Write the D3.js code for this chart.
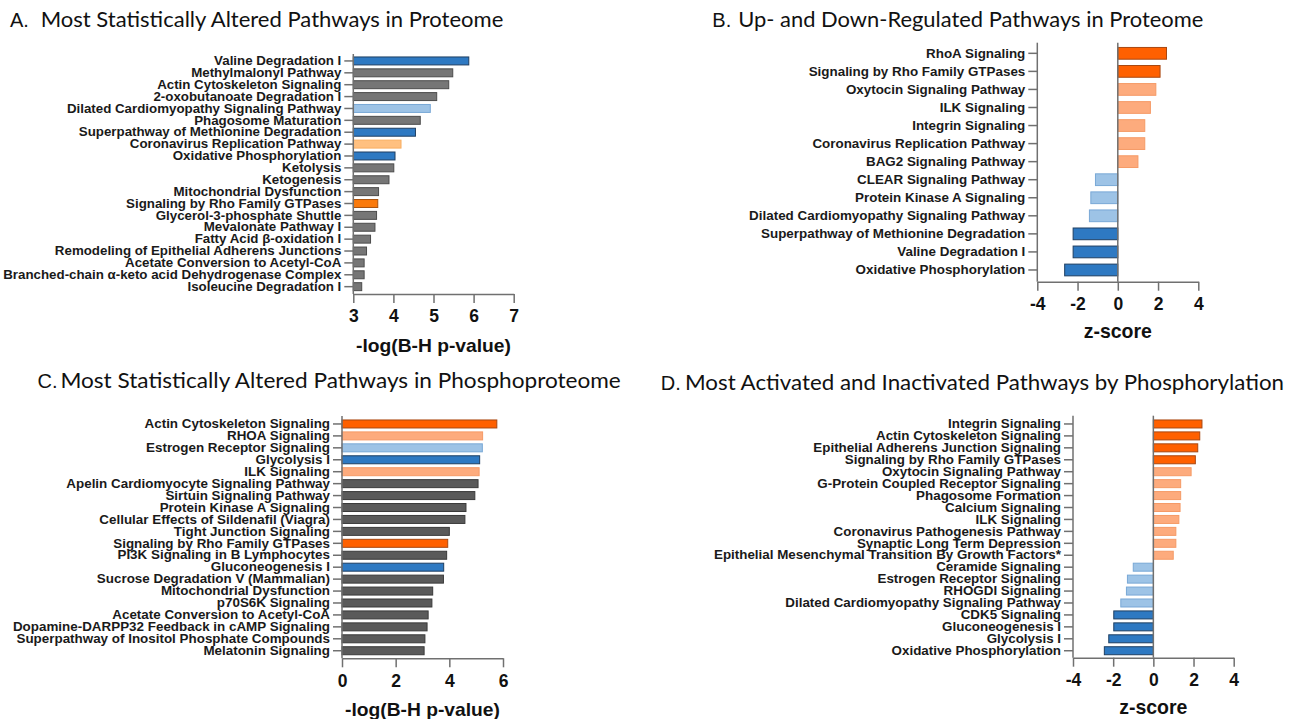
<!DOCTYPE html>
<html>
<head>
<meta charset="utf-8">
<script src="https://cdn.jsdelivr.net/npm/d3@7"></script>
<style>
  html, body { margin: 0; padding: 0; background: #ffffff; }
  svg { display: block; }
</style>
</head>
<body>
<svg id="chart" width="1300" height="719"></svg>
<script>
// ---------------- DATA ----------------
const aLabels = ["Valine Degradation I","Methylmalonyl Pathway","Actin Cytoskeleton Signaling","2-oxobutanoate Degradation I","Dilated Cardiomyopathy Signaling Pathway","Phagosome Maturation","Superpathway of Methionine Degradation","Coronavirus Replication Pathway","Oxidative Phosphorylation","Ketolysis","Ketogenesis","Mitochondrial Dysfunction","Signaling by Rho Family GTPases","Glycerol-3-phosphate Shuttle","Mevalonate Pathway I","Fatty Acid β-oxidation I","Remodeling of Epithelial Adherens Junctions","Acetate Conversion to Acetyl-CoA","Branched-chain α-keto acid Dehydrogenase Complex","Isoleucine Degradation I"];
const aValues = [5.88,5.48,5.38,5.08,4.92,4.67,4.55,4.19,4.04,4.01,3.89,3.63,3.61,3.58,3.54,3.43,3.33,3.27,3.27,3.21];
const aCats = ["down","none","none","none","weakDown","none","down","weakUp","down","none","none","none","up","none","none","none","none","none","none","none"];
const aTicks = [3,4,5,6,7];

const bLabels = ["RhoA Signaling","Signaling by Rho Family GTPases","Oxytocin Signaling Pathway","ILK Signaling","Integrin Signaling","Coronavirus Replication Pathway","BAG2 Signaling Pathway","CLEAR Signaling Pathway","Protein Kinase A Signaling","Dilated Cardiomyopathy Signaling Pathway","Superpathway of Methionine Degradation","Valine Degradation I","Oxidative Phosphorylation"];
const bValues = [2.42,2.10,1.89,1.62,1.34,1.34,1.00,-1.11,-1.34,-1.41,-2.22,-2.22,-2.64];
const bCats = ["up","up","weakUp","weakUp","weakUp","weakUp","weakUp","weakDown","weakDown","weakDown","down","down","down"];
const bTicks = [-4,-2,0,2,4];

const cLabels = ["Actin Cytoskeleton Signaling","RHOA Signaling","Estrogen Receptor Signaling","Glycolysis I","ILK Signaling","Apelin Cardiomyocyte Signaling Pathway","Sirtuin Signaling Pathway","Protein Kinase A Signaling","Cellular Effects of Sildenafil (Viagra)","Tight Junction Signaling","Signaling by Rho Family GTPases","PI3K Signaling in B Lymphocytes","Gluconeogenesis I","Sucrose Degradation V (Mammalian)","Mitochondrial Dysfunction","p70S6K Signaling","Acetate Conversion to Acetyl-CoA","Dopamine-DARPP32 Feedback in cAMP Signaling","Superpathway of Inositol Phosphate Compounds","Melatonin Signaling"];
const cValues = [5.77,5.24,5.23,5.13,5.11,5.07,4.95,4.62,4.58,4.00,3.94,3.90,3.79,3.78,3.38,3.35,3.21,3.17,3.09,3.06];
const cCats = ["up","weakUp","weakDown","down","weakUp","none","none","none","none","none","up","none","down","none","none","none","none","none","none","none"];
const cTicks = [0,2,4,6];

const dLabels = ["Integrin Signaling","Actin Cytoskeleton Signaling","Epithelial Adherens Junction Signaling","Signaling by Rho Family GTPases","Oxytocin Signaling Pathway","G-Protein Coupled Receptor Signaling","Phagosome Formation","Calcium Signaling","ILK Signaling","Coronavirus Pathogenesis Pathway","Synaptic Long Term Depression","Epithelial Mesenchymal Transition By Growth Factors*","Ceramide Signaling","Estrogen Receptor Signaling","RHOGDI Signaling","Dilated Cardiomyopathy Signaling Pathway","CDK5 Signaling","Gluconeogenesis I","Glycolysis I","Oxidative Phosphorylation"];
const dValues = [2.42,2.31,2.21,2.09,1.88,1.36,1.36,1.33,1.27,1.12,1.12,0.99,-1.00,-1.29,-1.34,-1.62,-1.97,-1.97,-2.22,-2.44];
const dCats = ["up","up","up","up","weakUp","weakUp","weakUp","weakUp","weakUp","weakUp","weakUp","weakUp","weakDown","weakDown","weakDown","weakDown","down","down","down","down"];
const dTicks = [-4,-2,0,2,4];

const titles = [
  {letter:"A.", text:"Most Statistically Altered Pathways in Proteome"},
  {letter:"B.", text:"Up- and Down-Regulated Pathways in Proteome"},
  {letter:"C.", text:"Most Statistically Altered Pathways in Phosphoproteome"},
  {letter:"D.", text:"Most Activated and Inactivated Pathways by Phosphorylation"}
];
const xTitles = ["-log(B-H p-value)","z-score","-log(B-H p-value)","z-score"];

// ---------------- STYLE ----------------
const basePalette = {
  up:       {fill:"#ff6000", stroke:"#a94710"},
  weakUp:   {fill:"#fdab7d", stroke:"#f59a66"},
  weakDown: {fill:"#9dc3e6", stroke:"#79a8d6"},
  down:     {fill:"#2e79c2", stroke:"#1f3f62"},
  none:     {fill:"#5a5a5a", stroke:"#3a3a3a"}
};
const paletteA = Object.assign({}, basePalette, {
  up:     {fill:"#fa7a0c", stroke:"#a8520e"},
  weakUp: {fill:"#ffc080", stroke:"#f8ae62"},
  none:   {fill:"#767676", stroke:"#4c4c4c"}
});
const axisColor = "#707070";
const labelFont = "'Liberation Sans', Arial, sans-serif";
const titleFont = "Lato, 'Open Sans', sans-serif";
const labelSize = 13.2;

const svg = d3.select("#chart");

function measure(text, size, weight, family) {
  const t = svg.append("text").attr("font-size", size).attr("font-weight", weight)
    .attr("font-family", family).text(text);
  const w = t.node().getComputedTextLength();
  t.remove();
  return w;
}
function fitSize(text, width, weight, family) {
  return 12 * width / measure(text, 12, weight, family);
}

function drawPanel(p) {
  const g = svg.append("g");
  const x = d3.scaleLinear().domain(p.domain).range(p.xRange);
  const y = d3.scaleBand().domain(p.labels).range(p.yRange).paddingInner(p.pad).paddingOuter(p.pad / 2);
  const base = p.diverging ? 0 : p.domain[0];
  // horizontal condensation so that the reference label keeps its width
  const sx = p.fitWidth / measure(p.fitText, labelSize, "bold", labelFont);

  // bars
  g.selectAll("rect.bar").data(p.values).join("rect")
    .attr("class", "bar")
    .attr("x", d => x(Math.min(base, d)))
    .attr("width", d => Math.abs(x(d) - x(base)))
    .attr("y", (d, i) => y(p.labels[i]))
    .attr("height", y.bandwidth())
    .attr("fill", (d, i) => p.palette[p.cats[i]].fill)
    .attr("stroke", (d, i) => p.palette[p.cats[i]].stroke)
    .attr("stroke-width", 1);

  // y axis
  const yAxis = g.append("g").attr("transform", `translate(${p.xRange[0]},0)`)
    .call(d3.axisLeft(y).tickSize(9).tickSizeOuter(0).tickPadding(3));
  yAxis.select(".domain").remove();
  yAxis.selectAll(".tick line").attr("stroke", axisColor).attr("stroke-width", 1.5);
  yAxis.selectAll(".tick text").attr("font-family", labelFont).attr("font-weight", "bold")
    .attr("font-size", labelSize).attr("fill", "#1a1a1a")
    .attr("x", -12 / sx).attr("transform", `scale(${sx},1)`);
  g.append("line").attr("x1", p.xRange[0]).attr("x2", p.xRange[0])
    .attr("y1", p.axisTop).attr("y2", p.axisY)
    .attr("stroke", axisColor).attr("stroke-width", 1.5);
  if (p.diverging) {
    g.append("line").attr("x1", x(0)).attr("x2", x(0))
      .attr("y1", p.axisTop).attr("y2", p.axisY)
      .attr("stroke", axisColor).attr("stroke-width", 1.5);
  }

  // x axis
  const xAxis = g.append("g").attr("transform", `translate(0,${p.axisY})`)
    .call(d3.axisBottom(x).tickValues(p.ticks).tickFormat(d3.format("d")).tickSize(9).tickSizeOuter(0).tickPadding(7));
  xAxis.select(".domain").attr("stroke", axisColor).attr("stroke-width", 1.5);
  xAxis.selectAll(".tick line").attr("stroke", axisColor).attr("stroke-width", 1.5);
  xAxis.selectAll(".tick text").attr("font-family", labelFont).attr("font-weight", "bold")
    .attr("font-size", 17.5).attr("fill", "#111");
  xAxis.selectAll(".tick text").text(d => d < 0 ? "-" + Math.abs(d) : d);

  // x title
  const tSize = fitSize(p.xTitle, p.xTitleWidth, "bold", labelFont);
  g.append("text").attr("x", (p.xRange[0] + p.xRange[1]) / 2).attr("y", p.xTitleY + p.xTitleShift * tSize)
    .attr("text-anchor", "middle").attr("font-family", labelFont).attr("font-weight", "bold")
    .attr("font-size", tSize).attr("fill", "#111").text(p.xTitle);

  // panel title
  g.append("text").attr("x", p.letterX).attr("y", p.titleBaseline)
    .attr("font-family", labelFont).attr("font-size", 20).attr("fill", "#111").text(p.title.letter);
  g.append("text").attr("x", p.titleX).attr("y", p.titleBaseline)
    .attr("font-family", titleFont).attr("font-size", 21).attr("fill", "#111")
    .attr("textLength", p.titleWidth).attr("lengthAdjust", "spacingAndGlyphs")
    .text(p.title.text);
}

drawPanel({
  labels: aLabels, values: aValues, cats: aCats, ticks: aTicks, palette: paletteA,
  domain: [3, 7], xRange: [353.3, 513.7], yRange: [55, 292.6], pad: 0.33, diverging: false,
  axisTop: 54, axisY: 294, xTitle: xTitles[0], xTitleWidth: 155, xTitleY: 345, xTitleShift: 0.36,
  fitText: aLabels[18], fitWidth: 338,
  title: titles[0], letterX: 10, titleX: 40.7, titleWidth: 462.6, titleBaseline: 26.7
});
drawPanel({
  labels: bLabels, values: bValues, cats: bCats, ticks: bTicks, palette: basePalette,
  domain: [-4, 4], xRange: [1037.3, 1198.3], yRange: [44.3, 279], pad: 0.35, diverging: true,
  axisTop: 42.7, axisY: 281.7, xTitle: xTitles[1], xTitleWidth: 68.3, xTitleY: 333, xTitleShift: 0.26,
  fitText: bLabels[9], fitWidth: 276,
  title: titles[1], letterX: 712.3, titleX: 738.3, titleWidth: 465, titleBaseline: 26.7
});
drawPanel({
  labels: cLabels, values: cValues, cats: cCats, ticks: cTicks, palette: basePalette,
  domain: [0, 6], xRange: [342, 503], yRange: [418, 656.7], pad: 0.33, diverging: false,
  axisTop: 416, axisY: 658.3, xTitle: xTitles[2], xTitleWidth: 155, xTitleY: 709, xTitleShift: 0.36,
  fitText: cLabels[8], fitWidth: 230.7,
  title: titles[2], letterX: 37.5, titleX: 60.4, titleWidth: 560.4, titleBaseline: 387.5
});
drawPanel({
  labels: dLabels, values: dValues, cats: dCats, ticks: dTicks, palette: basePalette,
  domain: [-4, 4], xRange: [1073, 1233.7], yRange: [418, 656.7], pad: 0.33, diverging: true,
  axisTop: 415.7, axisY: 657.7, xTitle: xTitles[3], xTitleWidth: 68.3, xTitleY: 709, xTitleShift: 0.26,
  fitText: dLabels[11], fitWidth: 347,
  title: titles[3], letterX: 660.7, titleX: 685, titleWidth: 599, titleBaseline: 390
});
</script>
</body>
</html>
